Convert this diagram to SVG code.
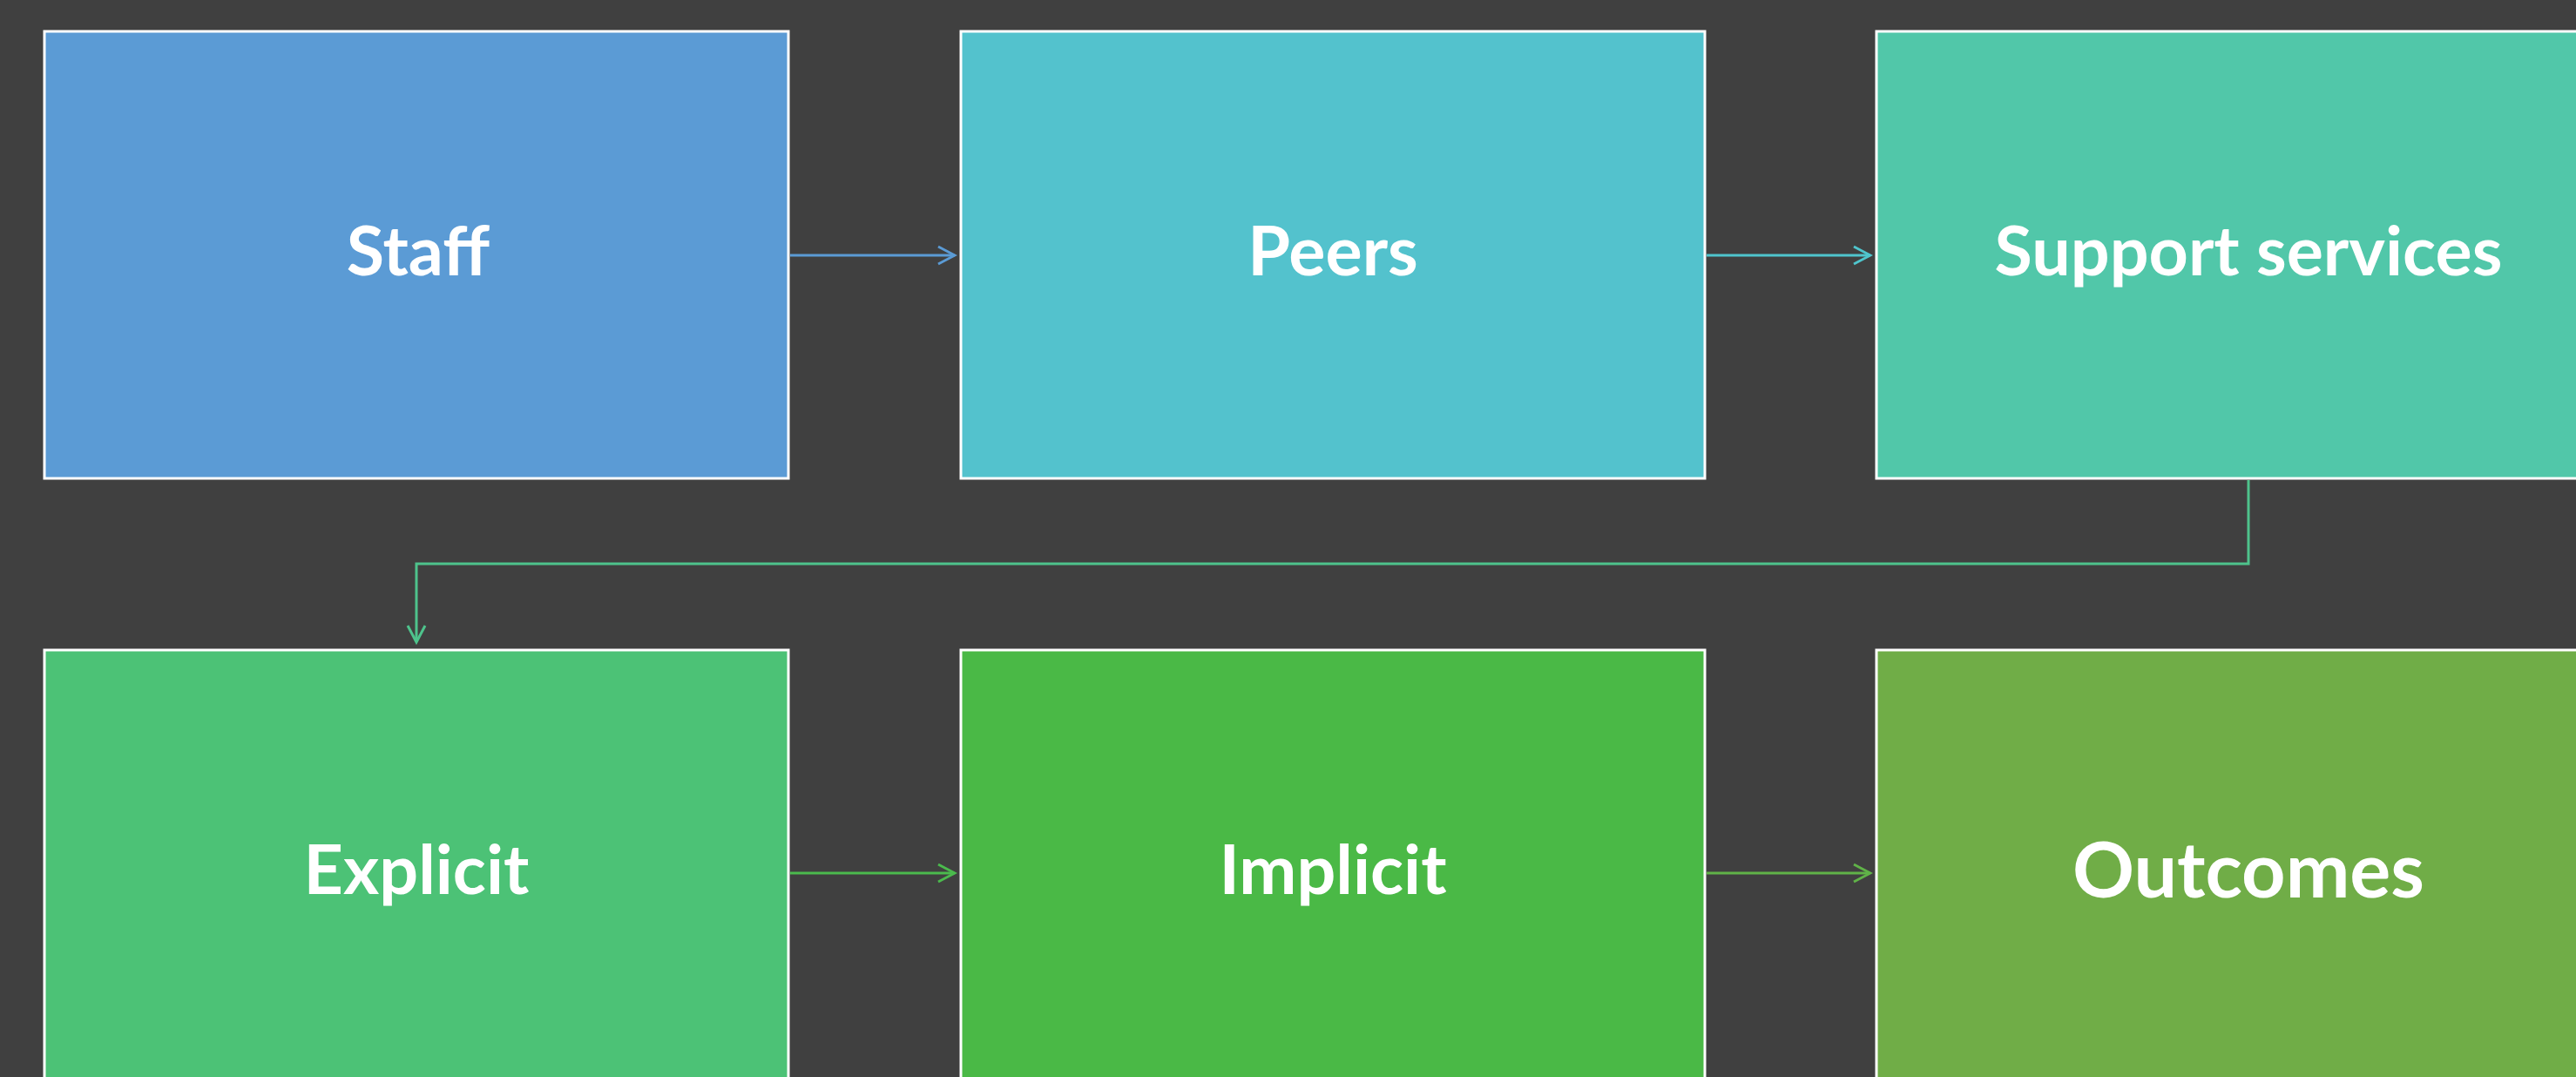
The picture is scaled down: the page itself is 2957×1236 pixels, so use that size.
<svg xmlns="http://www.w3.org/2000/svg" width="2957" height="1236" viewBox="0 0 2957 1236">
<style>
.box{stroke:#FFFFFF;stroke-width:3}
.lbl{font-family:Lato,"Open Sans","Liberation Sans",sans-serif;font-weight:bold;font-size:79px;fill:#FFFFFF;text-anchor:middle}
.big{font-size:88px}
.con{fill:none;stroke-width:3}
</style>
<defs>
<marker id="ah" viewBox="0 0 24 24" refX="21" refY="12" markerWidth="24" markerHeight="24" markerUnits="userSpaceOnUse" orient="auto">
<path d="M2,2 L21,12 L2,22" fill="none" stroke="context-stroke" stroke-width="3"/>
</marker>
</defs>
<rect width="2957" height="1236" fill="#404040"/>
<g id="node-staff"><rect class="box" x="51" y="36" width="854" height="513" fill="#5B9BD5"/><text class="lbl" x="480" y="316">Staff</text></g>
<g id="node-peers"><rect class="box" x="1103" y="36" width="854" height="513" fill="#53C2CD"/><text class="lbl" x="1530" y="316">Peers</text></g>
<g id="node-support"><rect class="box" x="2154" y="36" width="854" height="513" fill="#51C7A9"/><text class="lbl" x="2581" y="316">Support services</text></g>
<g id="node-explicit"><rect class="box" x="51" y="746" width="854" height="513" fill="#4CC276"/><text class="lbl" x="478" y="1026">Explicit</text></g>
<g id="node-implicit"><rect class="box" x="1103" y="746" width="854" height="513" fill="#4AB946"/><text class="lbl" x="1530" y="1026">Implicit</text></g>
<g id="node-outcomes"><rect class="box" x="2154" y="746" width="854" height="513" fill="#70AD47"/><text class="lbl big" x="2581" y="1030">Outcomes</text></g>
<g id="connectors">
<path class="con" d="M907,293 H1096" stroke="#5B9BD5" marker-end="url(#ah)"/>
<path class="con" d="M1959,293 H2147" stroke="#4FC5CD" marker-end="url(#ah)"/>
<path class="con" d="M2581,551 V647 H478 V737" stroke="#4EC38C" marker-end="url(#ah)"/>
<path class="con" d="M907,1002 H1096" stroke="#4BBA4D" marker-end="url(#ah)"/>
<path class="con" d="M1959,1002 H2147" stroke="#60B348" marker-end="url(#ah)"/>
</g>
</svg>
